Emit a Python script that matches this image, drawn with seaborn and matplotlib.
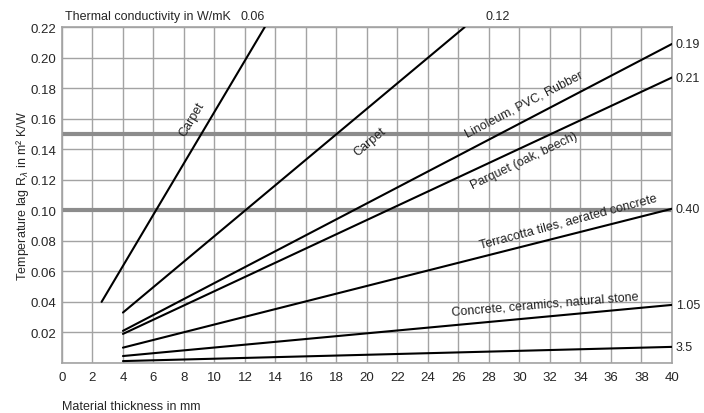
import pandas as pd
import numpy as np
import seaborn as sns
import matplotlib.pyplot as plt

# conductivity values (W/mK) and the line end points
lam = ['0.06', '0.12', '0.19', '0.21', '0.40', '1.05', '3.5']
x_start = [2.6, 4, 4, 4, 4, 4, 4]
x_end = [13.3, 26.4, 40, 40, 40, 40, 40]
r_start = [0.040, 0.033, 0.021, 0.019, 0.010, 0.0045, 0.0012]
r_end = [0.220, 0.220, 0.209, 0.187, 0.101, 0.038, 0.0105]

# labels along the lines: text, centre x, centre y, angle
line_labels = ['Carpet', 'Carpet', 'Linoleum, PVC, Rubber', 'Parquet (oak, beech)',
               'Terracotta tiles, aerated concrete', 'Concrete, ceramics, natural stone']
label_x = [8.55, 20.2, 30.3, 30.3, 33.2, 31.7]
label_y = [0.160, 0.145, 0.170, 0.133, 0.093, 0.0385]
label_rot = [59, 40, 27.5, 25.7, 15, 4.8]

hlines = [0.10, 0.15]

df = pd.DataFrame({
    'lam': lam * 2,
    'd': x_start + x_end,
    'R': r_start + r_end,
})

sns.set_style('white')
plt.rcParams['font.family'] = ['Liberation Sans', 'DejaVu Sans']
plt.rcParams['font.size'] = 9

fig = plt.figure(figsize=(7.04, 4.14), dpi=100)
ax = fig.add_axes([0.088, 0.121, 0.8665, 0.811])

grey = '#a3a3a3'
for h in hlines:
    ax.axhline(h, color='#8c8c8c', lw=3, zorder=1)

sns.lineplot(data=df, x='d', y='R', hue='lam', palette=['black'] * len(lam),
             legend=False, lw=1.5, ax=ax, zorder=3)

ax.set_xlim(0, 40)
ax.set_ylim(0, 0.22)
ax.set_xticks(np.arange(0, 41, 2))
ax.set_yticks(np.arange(0, 0.2201, 0.02))
ax.set_yticklabels([''] + ['%.2f' % v for v in np.arange(0.02, 0.2201, 0.02)])
ax.grid(True, color=grey, lw=1)
ax.set_axisbelow(True)
ax.tick_params(length=0, labelsize=9.5)
ax.tick_params(axis='y', pad=4)
ax.tick_params(axis='x', pad=6)
for s in ax.spines.values():
    s.set_color(grey)
    s.set_linewidth(1.2)

ax.set_xlabel('Material thickness in mm', loc='left', labelpad=12, fontsize=9)
ax.set_ylabel('Temperature lag R$_\\lambda$ in m² K/W', fontsize=9, labelpad=0)

for t, x, y, r in zip(line_labels, label_x, label_y, label_rot):
    ax.text(x, y, t, rotation=r, ha='center', va='center', fontsize=9,
            rotation_mode='anchor', color='#222222')

# conductivity values at the line ends
ax.text(0.005, 1.015, 'Thermal conductivity in W/mK', transform=ax.transAxes,
        fontsize=9, va='bottom', ha='left')
ax.text(12.5, 0.2235, lam[0], fontsize=9, va='bottom', ha='center', clip_on=False)
ax.text(28.6, 0.2235, lam[1], fontsize=9, va='bottom', ha='center', clip_on=False)
for i in range(2, len(lam)):
    ax.text(40.25, r_end[i], lam[i], fontsize=9, va='center', ha='left', clip_on=False)

fig.savefig('out.png', dpi=100)
